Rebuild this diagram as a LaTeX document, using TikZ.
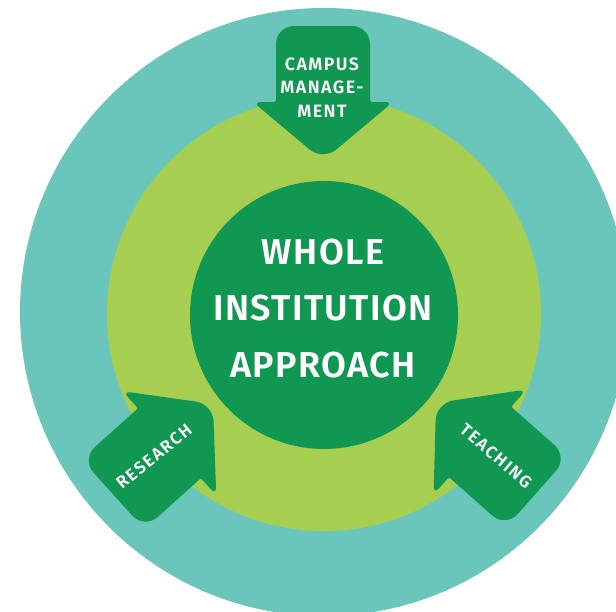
\documentclass[tikz,border=0pt]{standalone}
\usepackage{fontspec}
\newfontfamily\coresans{Fira Sans SemiBold}[LetterSpace=4]
\newfontfamily\campussans{Fira Sans SemiBold}[LetterSpace=8]
\newfontfamily\pillarsans{Fira Sans SemiBold}[LetterSpace=10]
\definecolor{wiaTeal}{HTML}{6AC6BA}
\definecolor{wiaLime}{HTML}{A6CF52}
\definecolor{wiaGreen}{HTML}{109751}

\tikzset{every picture/.style={line width=0.75pt}}
% arrow pointing along +y, tail centre at the origin
\newcommand{\pillarshape}{%
  (0,0) [rounded corners=13.5pt] -- (47,0) [rounded corners=1.5pt] -- (47,76) [rounded corners=6pt] -- (70,76) [rounded corners=13pt] -- (0,134.7) [rounded corners=6pt] -- (-70,76) [rounded corners=1.5pt] -- (-47,76) [rounded corners=13.5pt] -- (-47,0) -- cycle}

\begin{document}
\begin{tikzpicture}[x=0.75pt,y=0.75pt,yscale=-1,xscale=1,
  wiatext/.style={text=white, inner sep=0pt, align=center}]
\useasboundingbox (0,0) rectangle (616,611); %diagram is 616 x 611
\clip (0,0) rectangle (616,611);

%Shape: Circle [outer ring]
\fill[wiaTeal] (324,312) circle (304) ;
%Shape: Circle [middle ring]
\fill[wiaLime] (324,314) circle (217) ;
%Shape: Circle [core]
\fill[wiaGreen] (324,315) circle (134) ;

%Shape: Arrow [campus]
\begin{scope}[shift={(323,26)}]
\fill[wiaGreen] \pillarshape ;
\end{scope}
%Shape: Arrow [research]
\begin{scope}[shift={(112.9,494.1)},rotate=-132]
\fill[wiaGreen] \pillarshape ;
\end{scope}
%Shape: Arrow [teaching]
\begin{scope}[shift={(536.9,492.3)},rotate=131.5]
\fill[wiaGreen] \pillarshape ;
\end{scope}

% Text Node
\node[wiatext, font={\campussans\fontsize{13.4pt}{17.6pt}\selectfont}] (campus) at (322,87.3) {CAMPUS\\MANAGE-\\MENT};
% Text Node
\node[wiatext, font={\coresans\fontsize{27pt}{42.4pt}\selectfont}] (core) at (323,308.5) {WHOLE\\INSTITUTION\\APPROACH};
% Text Node
\node[wiatext, font={\pillarsans\fontsize{12.8pt}{15pt}\selectfont}, rotate=39] (research) at (154,456.5) {RESEARCH};
% Text Node
\node[wiatext, font={\pillarsans\fontsize{12.8pt}{15pt}\selectfont}, rotate=-40.5] (teaching) at (496,456) {TEACHING};

\end{tikzpicture}
\end{document}
